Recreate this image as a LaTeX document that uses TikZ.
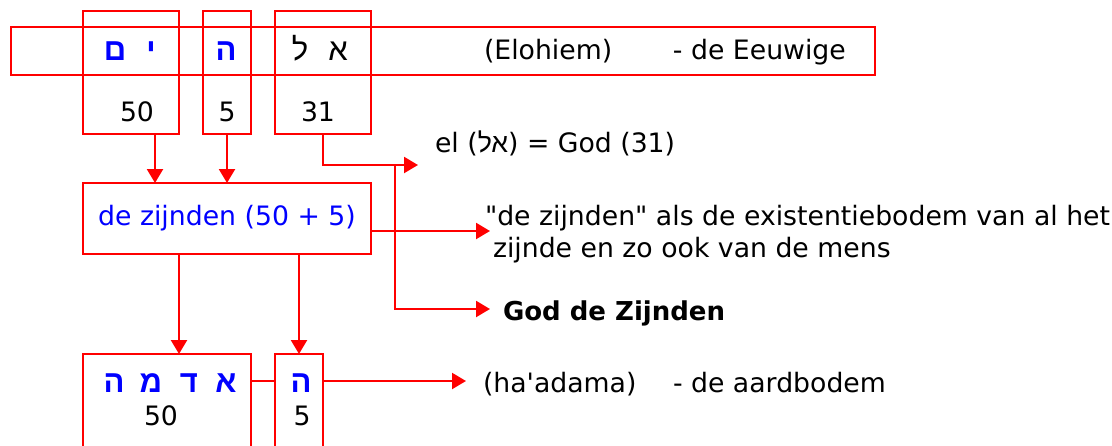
\documentclass[tikz,border=0pt]{standalone}
\usepackage{fontspec}
\usetikzlibrary{arrows.meta}
\newfontfamily\dv{DejaVu Sans}
\newfontfamily\heb[Script=Hebrew]{Liberation Sans}
\TeXXeTstate=1
\definecolor{rd}{RGB}{255,0,0}
\definecolor{bl}{RGB}{0,0,255}
\tikzset{
  box/.style={draw=rd, line width=2pt, inner sep=0pt, outer sep=0pt},
  txt/.style={font=\dv\fontsize{26.7}{32}\selectfont, inner sep=0pt, outer sep=0pt, text=black},
  hb/.style={font=\heb\bfseries\fontsize{31}{36}\selectfont, text=bl, inner sep=0pt, anchor=base},
  hbk/.style={font=\heb\fontsize{31}{36}\selectfont, text=black, inner sep=0pt, anchor=base},
  conn/.style={draw=rd, line width=2.2pt, -{Triangle[length=14pt,width=16pt]}},
  ln/.style={draw=rd, line width=2.2pt},
}
\begin{document}
\begin{tikzpicture}[x=1pt,y=-1pt]
\path[use as bounding box, clip] (0,0) rectangle (1112,445);
% boxes
\node[box, minimum width=864, minimum height=48] (wide) at (443,51) {};
\node[box, minimum width=96, minimum height=123] (bym) at (131,72.5) {};
\node[box, minimum width=48, minimum height=123] (bhe) at (227,72.5) {};
\node[box, minimum width=96, minimum height=123] (bal) at (323,72.5) {};
\node[box, minimum width=288, minimum height=71, txt, text=bl] (zij) at (227,218.5) {de zijnden (50 + 5)};
\node[box, minimum width=168, minimum height=116] (low1) at (167,412) {};
\node[box, minimum width=48, minimum height=116] (low2) at (299,412) {};
% hebrew letters top
\node[hb] (mem) at (115,60) {ם};
\node[hb] (yod) at (151,60) {י};
\node[hb] (he1) at (226,60) {ה};
\node[hbk] (lamed) at (300,60) {ל};
\node[hbk] (alef) at (338,60) {א};
% numbers top
\node[txt, anchor=base] (n50) at (137,121) {50};
\node[txt, anchor=base] (n5) at (227,121) {5};
\node[txt, anchor=base] (n31) at (318,121) {31};
% hebrew bottom
\node[hb] (he2) at (114,392) {ה};
\node[hb] (mem2) at (151,392) {מ};
\node[hb] (dal) at (189,392) {ד};
\node[hb] (alef2) at (226,392) {א};
\node[hb] (he3) at (301,392) {ה};
\node[txt, anchor=base] (m50) at (161,425) {50};
\node[txt, anchor=base] (m5) at (302,425) {5};
% texts
\node[txt, anchor=base west] (elo) at (484,59) {\makebox[189pt][l]{(Elohiem)}- de Eeuwige};
\node[txt, anchor=base west] (el) at (435,152) {el ({\heb\beginR אל\endR}) = God (31)};
\node[txt, anchor=base west] (desc1) at (485,225) {"de zijnden" als de existentiebodem van al het};
\node[txt, anchor=base west] (desc2) at (493,257) {zijnde en zo ook van de mens};
\node[txt, anchor=base west, font=\dv\bfseries\fontsize{26}{31}\selectfont] (god) at (503,320) {God de Zijnden};
\node[txt, anchor=base west] (ha) at (483,392) {\makebox[190pt][l]{(ha'adama)}- de aardbodem};
% helper coordinates
\coordinate (x155) at (155,0);
\coordinate (x179) at (179,0);
\coordinate (eltip) at (418,165);
\coordinate (elj) at (395,165);
\coordinate (godtip) at (490,309);
\coordinate (ztip) at (490,231);
\coordinate (hatip) at (466,381);
% connectors
\draw[conn] (bym.south -| x155) -- (zij.north -| x155);
\draw[conn] (bhe.south) -- (zij.north -| bhe.south);
\draw[conn] (bal.south) |- (eltip);
\draw[conn] (elj) |- (godtip);
\draw[conn] (zij.east |- ztip) -- (ztip);
\draw[conn] (zij.south -| x179) -- (low1.north -| x179);
\draw[conn] (zij.south -| low2.north) -- (low2.north);
\draw[ln] (low1.east |- hatip) -- (low2.west |- hatip);
\draw[conn] (low2.east |- hatip) -- (hatip);
\end{tikzpicture}
\end{document}
